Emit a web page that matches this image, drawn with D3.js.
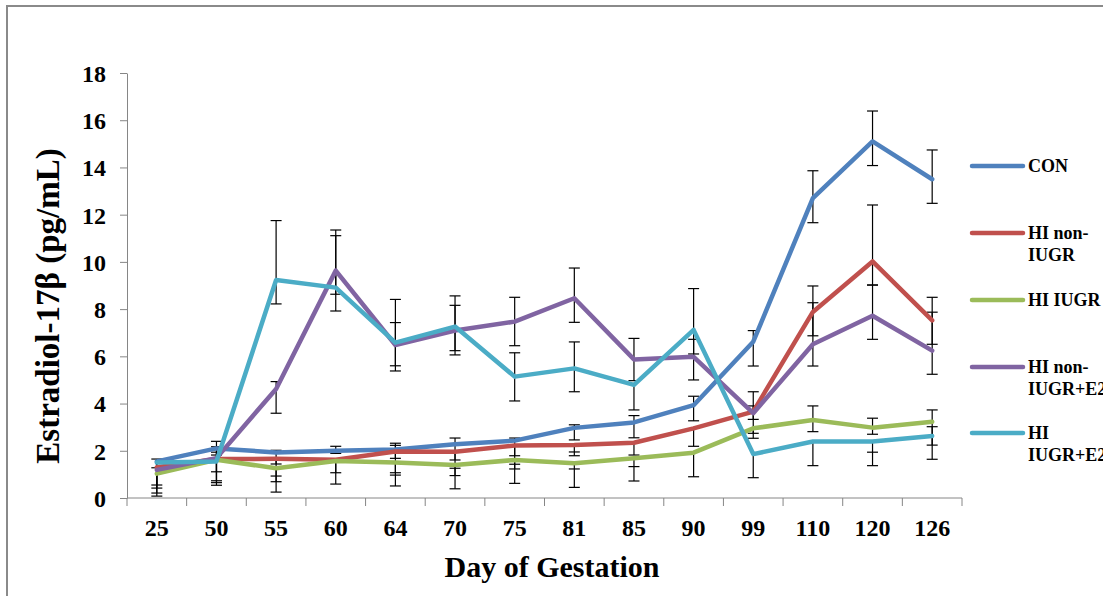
<!DOCTYPE html>
<html>
<head>
<meta charset="utf-8">
<script src="https://cdn.jsdelivr.net/npm/d3@7"></script>
<style>
  body { margin: 0; background: #fff; }
  text { font-family: "Liberation Serif", "Times New Roman", serif; font-weight: bold; fill: #000; }
</style>
</head>
<body>
<svg id="chart" width="1103" height="596"></svg>
<script>
// day of gestation
const days = ['25', '50', '55', '60', '64', '70', '75', '81', '85', '90', '99', '110', '120', '126'];
const yTicks = [0, 2, 4, 6, 8, 10, 12, 14, 16, 18];

// means and error bar ends (pg/mL)
const con     = [1.55, 2.1, 1.93, 2.0, 2.05, 2.28, 2.43, 2.97, 3.2, 3.93, 6.62, 12.7, 15.1, 13.5];
const conLo   = [1.28, 1.82, 1.44, 1.89, 1.68, 1.61, 1.79, 2.46, 2.55, 3.27, 5.59, 11.66, 14.08, 12.48];
const conHi   = [1.65, 2.4, 2.02, 2.19, 2.32, 2.54, 2.54, 3.1, 3.49, 4.31, 7.09, 13.86, 16.39, 14.74];

const hiNon   = [1.3, 1.65, 1.66, 1.62, 1.97, 1.96, 2.22, 2.24, 2.34, 2.95, 3.66, 7.88, 10.02, 7.52];
const hiNonLo = [0.55, 1.11, 0.69, 1.07, 1.07, 0.95, 1.23, 1.79, 1.82, 2.19, 3.33, 6.87, 9.02, 6.51];
const hiNonHi = [1.3, 2.17, 1.66, 1.62, 2.23, 1.96, 2.22, 1.95, 2.34, 2.95, 4.5, 8.98, 12.41, 8.5];

const hiIugr   = [1.03, 1.62, 1.26, 1.57, 1.5, 1.4, 1.61, 1.47, 1.68, 1.92, 2.95, 3.3, 2.98, 3.23];
const hiIugrLo = [0.08, 0.65, 0.25, 0.59, 0.51, 0.39, 0.62, 0.45, 0.72, 0.9, 2.53, 2.81, 2.7, 2.24];
const hiIugrHi = [1.03, 1.62, 0.93, 1.57, 0.97, 1.26, 1.43, 1.23, 1.33, 1.92, 2.95, 3.9, 3.38, 3.73];

const hiNonE2   = [1.19, 1.69, 4.62, 9.63, 6.48, 7.09, 7.47, 8.46, 5.87, 5.98, 3.59, 6.51, 7.72, 6.24];
const hiNonE2Lo = [0.21, 0.54, 3.59, 7.92, 5.38, 6.24, 6.45, 7.44, 4.97, 5.0, 2.74, 5.59, 6.72, 5.24];
const hiNonE2Hi = [1.19, 1.94, 4.93, 11.35, 8.41, 8.16, 8.5, 9.74, 6.76, 6.72, 3.9, 8.27, 9.02, 7.87];

const hiIugrE2   = [1.5, 1.55, 9.23, 8.91, 6.58, 7.26, 5.14, 5.49, 4.79, 7.12, 1.86, 2.39, 2.39, 2.63];
const hiIugrE2Lo = [0.42, 0.73, 8.22, 8.63, 5.6, 6.06, 4.11, 4.5, 3.73, 6.1, 0.86, 1.37, 1.37, 1.64];
const hiIugrE2Hi = [1.5, 1.55, 11.75, 11.11, 7.43, 8.56, 6.15, 6.61, 4.79, 8.87, 1.86, 2.39, 1.94, 3.02];

const seriesNames = [['CON'], ['HI non-', 'IUGR'], ['HI IUGR'], ['HI non-', 'IUGR+E2'], ['HI', 'IUGR+E2']];
const colors = ['#4f81bd', '#c0504d', '#9bbb59', '#8064a2', '#4bacc6'];

const series = [
    {vals: con, lo: conLo, hi: conHi},
    {vals: hiNon, lo: hiNonLo, hi: hiNonHi},
    {vals: hiIugr, lo: hiIugrLo, hi: hiIugrHi},
    {vals: hiNonE2, lo: hiNonE2Lo, hi: hiNonE2Hi},
    {vals: hiIugrE2, lo: hiIugrE2Lo, hi: hiIugrE2Hi}
].map((s, k) => Object.assign(s, {name: seriesNames[k], color: colors[k]}));

const svg = d3.select('#chart');

// chart frame
svg.append('rect')
    .attr('x', 7).attr('y', 6).attr('width', 1110).attr('height', 600)
    .attr('fill', 'none').attr('stroke', '#8a8a8a').attr('stroke-width', 2);

const x = d3.scaleBand().domain(days).range([127, 962]);
const y = d3.scaleLinear().domain([0, 18]).range([498, 73]);
const cx = (i) => x(days[i]) + x.bandwidth() / 2;

// y axis
const yAxis = svg.append('g')
    .attr('transform', 'translate(127,0)')
    .call(d3.axisLeft(y).tickValues(yTicks).tickSize(7).tickSizeOuter(0).tickPadding(14));
yAxis.selectAll('path, line').attr('stroke', '#868686');
yAxis.selectAll('text').attr('font-size', 24).attr('font-family', null).attr('dy', '0.35em');

// x axis: ticks between categories, labels at centres
const xAxis = svg.append('g').attr('transform', 'translate(0,498)');
xAxis.append('line')
    .attr('x1', x.range()[0]).attr('x2', x.range()[1])
    .attr('stroke', '#868686');
xAxis.selectAll('line.tick')
    .data(days.map((d) => x(d)).concat([x.range()[1]]))
    .enter().append('line').attr('class', 'tick')
    .attr('x1', (d) => d).attr('x2', (d) => d)
    .attr('y1', 0).attr('y2', 8)
    .attr('stroke', '#868686');
xAxis.selectAll('text')
    .data(days)
    .enter().append('text')
    .attr('x', (d) => x(d) + x.bandwidth() / 2)
    .attr('y', 38)
    .attr('text-anchor', 'middle')
    .attr('font-size', 24)
    .text((d) => d);

// axis titles
svg.append('text')
    .attr('x', 552).attr('y', 577)
    .attr('text-anchor', 'middle').attr('font-size', 30)
    .text('Day of Gestation');
svg.append('text')
    .attr('transform', 'translate(59,306) rotate(-90)')
    .attr('text-anchor', 'middle').attr('font-size', 33)
    .text('Estradiol-17β (pg/mL)');

// error bars
const bars = svg.append('g').attr('stroke', '#000').attr('stroke-width', 1.2);
series.forEach((s) => {
    s.vals.forEach((v, i) => {
        const top = Math.max(v, s.hi[i]), bottom = Math.min(v, s.lo[i]);
        bars.append('line')
            .attr('x1', cx(i)).attr('x2', cx(i))
            .attr('y1', y(top)).attr('y2', y(bottom));
        [s.lo[i], s.hi[i]].filter((e) => e !== v).forEach((e) => {
            bars.append('line')
                .attr('x1', cx(i) - 5.5).attr('x2', cx(i) + 5.5)
                .attr('y1', y(e)).attr('y2', y(e));
        });
    });
});

// series lines
const line = d3.line().x((d, i) => cx(i)).y((d) => y(d));
svg.append('g').selectAll('path')
    .data(series)
    .enter().append('path')
    .attr('d', (s) => line(s.vals))
    .attr('fill', 'none')
    .attr('stroke', (s) => s.color)
    .attr('stroke-width', 4.5)
    .attr('stroke-linejoin', 'round')
    .attr('stroke-linecap', 'round');

// legend
const legendY = [166, 233, 300, 367, 433];
const legend = svg.append('g').selectAll('g')
    .data(series)
    .enter().append('g')
    .attr('transform', (s, k) => `translate(972,${legendY[k]})`);
legend.append('line')
    .attr('x1', 0).attr('x2', 51)
    .attr('stroke', (s) => s.color)
    .attr('stroke-width', 4.5)
    .attr('stroke-linecap', 'round');
legend.append('text')
    .attr('x', 56)
    .attr('font-size', 18)
    .selectAll('tspan')
    .data((s) => s.name)
    .enter().append('tspan')
    .attr('x', 56)
    .attr('y', (d, j) => 6 + j * 22)
    .text((d) => d);
</script>
</body>
</html>
